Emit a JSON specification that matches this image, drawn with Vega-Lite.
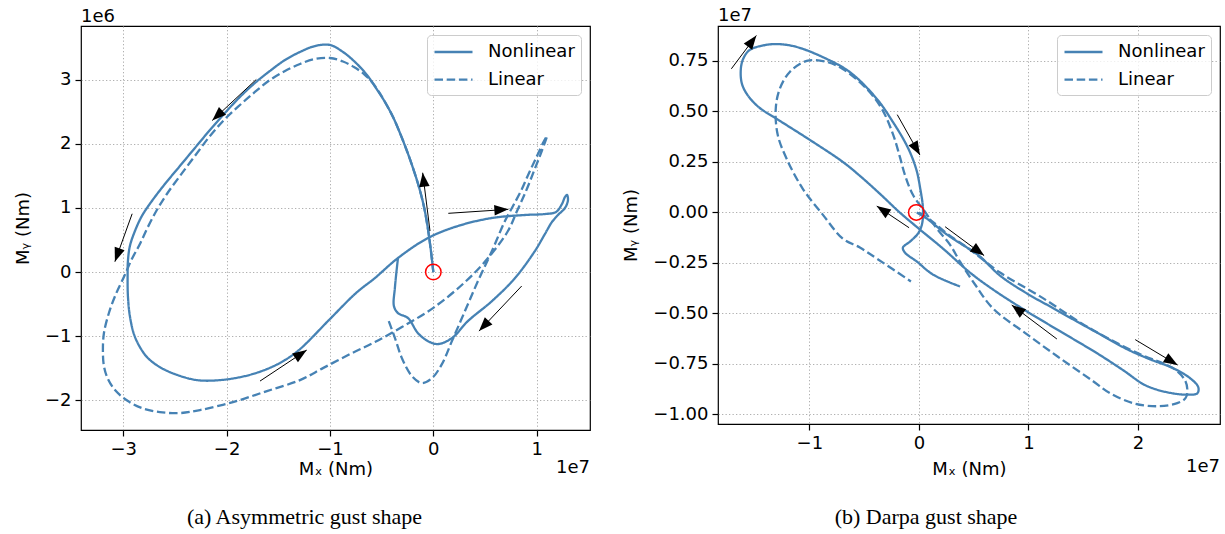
{
"$schema": "https://vega.github.io/schema/vega-lite/v6.json",
"background": "white",
"padding": {"left": 13, "top": 6, "right": 0, "bottom": 0},
"spacing": 128,
"bounds": "flush",
"datasets": {
"a_lines": [
{"series":"Nonlinear","t":1,"mx":0,"my":0},{"series":"Nonlinear","t":2,"mx":-0.023,"my":0.328},{"series":"Nonlinear","t":3,"mx":-0.052,"my":0.672},{"series":"Nonlinear","t":4,"mx":-0.09,"my":1.015},{"series":"Nonlinear","t":5,"mx":-0.139,"my":1.327},{"series":"Nonlinear","t":6,"mx":-0.197,"my":1.623},{"series":"Nonlinear","t":7,"mx":-0.255,"my":1.888},{"series":"Nonlinear","t":8,"mx":-0.323,"my":2.169},{"series":"Nonlinear","t":9,"mx":-0.39,"my":2.418},{"series":"Nonlinear","t":10,"mx":-0.468,"my":2.652},{"series":"Nonlinear","t":11,"mx":-0.555,"my":2.87},{"series":"Nonlinear","t":12,"mx":-0.642,"my":3.073},{"series":"Nonlinear","t":13,"mx":-0.758,"my":3.276},{"series":"Nonlinear","t":14,"mx":-0.874,"my":3.432},{"series":"Nonlinear","t":15,"mx":-1.0,"my":3.541},{"series":"Nonlinear","t":16,"mx":-1.145,"my":3.525},{"series":"Nonlinear","t":17,"mx":-1.29,"my":3.432},{"series":"Nonlinear","t":18,"mx":-1.435,"my":3.307},{"series":"Nonlinear","t":19,"mx":-1.581,"my":3.136},{"series":"Nonlinear","t":20,"mx":-1.726,"my":2.949},{"series":"Nonlinear","t":21,"mx":-1.871,"my":2.731},{"series":"Nonlinear","t":22,"mx":-2.016,"my":2.481},{"series":"Nonlinear","t":23,"mx":-2.161,"my":2.216},{"series":"Nonlinear","t":24,"mx":-2.307,"my":1.935},{"series":"Nonlinear","t":25,"mx":-2.452,"my":1.654},{"series":"Nonlinear","t":26,"mx":-2.597,"my":1.373},{"series":"Nonlinear","t":27,"mx":-2.723,"my":1.108},{"series":"Nonlinear","t":28,"mx":-2.82,"my":0.874},{"series":"Nonlinear","t":29,"mx":-2.887,"my":0.64},{"series":"Nonlinear","t":30,"mx":-2.936,"my":0.406},{"series":"Nonlinear","t":31,"mx":-2.955,"my":0.172},{"series":"Nonlinear","t":32,"mx":-2.958,"my":-0.061},{"series":"Nonlinear","t":33,"mx":-2.955,"my":-0.375},{"series":"Nonlinear","t":34,"mx":-2.936,"my":-0.687},{"series":"Nonlinear","t":35,"mx":-2.897,"my":-0.967},{"series":"Nonlinear","t":36,"mx":-2.839,"my":-1.17},{"series":"Nonlinear","t":37,"mx":-2.762,"my":-1.341},{"series":"Nonlinear","t":38,"mx":-2.646,"my":-1.482},{"series":"Nonlinear","t":39,"mx":-2.501,"my":-1.591},{"series":"Nonlinear","t":40,"mx":-2.288,"my":-1.685},{"series":"Nonlinear","t":41,"mx":-2.064,"my":-1.685},{"series":"Nonlinear","t":42,"mx":-1.822,"my":-1.622},{"series":"Nonlinear","t":43,"mx":-1.61,"my":-1.513},{"series":"Nonlinear","t":44,"mx":-1.436,"my":-1.373},{"series":"Nonlinear","t":45,"mx":-1.29,"my":-1.202},{"series":"Nonlinear","t":46,"mx":-1.0,"my":-0.732},{"series":"Nonlinear","t":47,"mx":-0.748,"my":-0.327},{"series":"Nonlinear","t":48,"mx":-0.565,"my":-0.093},{"series":"Nonlinear","t":49,"mx":-0.342,"my":0.219},{"series":"Nonlinear","t":50,"mx":-0.052,"my":0.531},{"series":"Nonlinear","t":51,"mx":0.238,"my":0.718},{"series":"Nonlinear","t":52,"mx":0.567,"my":0.843},{"series":"Nonlinear","t":53,"mx":0.887,"my":0.89},{"series":"Nonlinear","t":54,"mx":1.08,"my":0.905},{"series":"Nonlinear","t":55,"mx":1.187,"my":0.937},{"series":"Nonlinear","t":56,"mx":1.245,"my":1.062},{"series":"Nonlinear","t":57,"mx":1.274,"my":1.171},{"series":"Nonlinear","t":58,"mx":1.293,"my":1.202},{"series":"Nonlinear","t":59,"mx":1.303,"my":1.124},{"series":"Nonlinear","t":60,"mx":1.274,"my":0.999},{"series":"Nonlinear","t":61,"mx":1.206,"my":0.89},{"series":"Nonlinear","t":62,"mx":1.148,"my":0.781},{"series":"Nonlinear","t":63,"mx":1.08,"my":0.594},{"series":"Nonlinear","t":64,"mx":0.983,"my":0.328},{"series":"Nonlinear","t":65,"mx":0.79,"my":-0.094},{"series":"Nonlinear","t":66,"mx":0.567,"my":-0.453},{"series":"Nonlinear","t":67,"mx":0.335,"my":-0.764},{"series":"Nonlinear","t":68,"mx":0.18,"my":-1.03},{"series":"Nonlinear","t":69,"mx":0.045,"my":-1.123},{"series":"Nonlinear","t":70,"mx":-0.052,"my":-1.077},{"series":"Nonlinear","t":71,"mx":-0.149,"my":-0.952},{"series":"Nonlinear","t":72,"mx":-0.245,"my":-0.718},{"series":"Nonlinear","t":73,"mx":-0.342,"my":-0.64},{"series":"Nonlinear","t":74,"mx":-0.381,"my":-0.531},{"series":"Nonlinear","t":75,"mx":-0.372,"my":-0.25},{"series":"Nonlinear","t":76,"mx":-0.342,"my":0.219},
{"series":"Linear","t":1,"mx":0,"my":0},{"series":"Linear","t":2,"mx":-0.023,"my":0.328},{"series":"Linear","t":3,"mx":-0.052,"my":0.672},{"series":"Linear","t":4,"mx":-0.09,"my":1.015},{"series":"Linear","t":5,"mx":-0.139,"my":1.327},{"series":"Linear","t":6,"mx":-0.197,"my":1.623},{"series":"Linear","t":7,"mx":-0.255,"my":1.888},{"series":"Linear","t":8,"mx":-0.323,"my":2.169},{"series":"Linear","t":9,"mx":-0.39,"my":2.418},{"series":"Linear","t":10,"mx":-0.468,"my":2.652},{"series":"Linear","t":11,"mx":-0.526,"my":2.808},{"series":"Linear","t":12,"mx":-0.594,"my":2.963},{"series":"Linear","t":13,"mx":-0.671,"my":3.088},{"series":"Linear","t":14,"mx":-0.768,"my":3.198},{"series":"Linear","t":15,"mx":-0.874,"my":3.284},{"series":"Linear","t":16,"mx":-1.0,"my":3.338},{"series":"Linear","t":17,"mx":-1.145,"my":3.323},{"series":"Linear","t":18,"mx":-1.29,"my":3.245},{"series":"Linear","t":19,"mx":-1.435,"my":3.136},{"series":"Linear","t":20,"mx":-1.581,"my":2.995},{"series":"Linear","t":21,"mx":-1.726,"my":2.808},{"series":"Linear","t":22,"mx":-1.871,"my":2.605},{"series":"Linear","t":23,"mx":-2.016,"my":2.387},{"series":"Linear","t":24,"mx":-2.161,"my":2.122},{"series":"Linear","t":25,"mx":-2.307,"my":1.81},{"series":"Linear","t":26,"mx":-2.452,"my":1.498},{"series":"Linear","t":27,"mx":-2.578,"my":1.217},{"series":"Linear","t":28,"mx":-2.675,"my":0.967},{"series":"Linear","t":29,"mx":-2.762,"my":0.702},{"series":"Linear","t":30,"mx":-2.839,"my":0.437},{"series":"Linear","t":31,"mx":-2.917,"my":0.203},{"series":"Linear","t":32,"mx":-2.994,"my":-0.077},{"series":"Linear","t":33,"mx":-3.071,"my":-0.342},{"series":"Linear","t":34,"mx":-3.139,"my":-0.639},{"series":"Linear","t":35,"mx":-3.187,"my":-0.951},{"series":"Linear","t":36,"mx":-3.197,"my":-1.232},{"series":"Linear","t":37,"mx":-3.187,"my":-1.466},{"series":"Linear","t":38,"mx":-3.148,"my":-1.669},{"series":"Linear","t":39,"mx":-3.071,"my":-1.856},{"series":"Linear","t":40,"mx":-2.955,"my":-2.012},{"series":"Linear","t":41,"mx":-2.82,"my":-2.121},{"series":"Linear","t":42,"mx":-2.646,"my":-2.184},{"series":"Linear","t":43,"mx":-2.452,"my":-2.199},{"series":"Linear","t":44,"mx":-2.258,"my":-2.152},{"series":"Linear","t":45,"mx":-1.939,"my":-2.028},{"series":"Linear","t":46,"mx":-1.61,"my":-1.856},{"series":"Linear","t":47,"mx":-1.29,"my":-1.685},{"series":"Linear","t":48,"mx":-1.068,"my":-1.498},{"series":"Linear","t":49,"mx":-0.806,"my":-1.279},{"series":"Linear","t":50,"mx":-0.565,"my":-1.092},{"series":"Linear","t":51,"mx":-0.304,"my":-0.858},{"series":"Linear","t":52,"mx":-0.003,"my":-0.562},{"series":"Linear","t":53,"mx":0.306,"my":-0.157},{"series":"Linear","t":54,"mx":0.529,"my":0.218},{"series":"Linear","t":55,"mx":0.722,"my":0.64},{"series":"Linear","t":56,"mx":0.81,"my":0.952},{"series":"Linear","t":57,"mx":0.897,"my":1.264},{"series":"Linear","t":58,"mx":0.974,"my":1.576},{"series":"Linear","t":59,"mx":1.042,"my":1.857},{"series":"Linear","t":60,"mx":1.1,"my":2.122},{"series":"Linear","t":61,"mx":1.071,"my":2.044},{"series":"Linear","t":62,"mx":1.003,"my":1.81},{"series":"Linear","t":63,"mx":0.926,"my":1.545},{"series":"Linear","t":64,"mx":0.848,"my":1.264},{"series":"Linear","t":65,"mx":0.771,"my":1.03},{"series":"Linear","t":66,"mx":0.693,"my":0.796},{"series":"Linear","t":67,"mx":0.567,"my":0.328},{"series":"Linear","t":68,"mx":0.432,"my":-0.14},{"series":"Linear","t":69,"mx":0.306,"my":-0.608},{"series":"Linear","t":70,"mx":0.18,"my":-1.077},{"series":"Linear","t":71,"mx":0.083,"my":-1.436},{"series":"Linear","t":72,"mx":-0.013,"my":-1.654},{"series":"Linear","t":73,"mx":-0.11,"my":-1.732},{"series":"Linear","t":74,"mx":-0.207,"my":-1.623},{"series":"Linear","t":75,"mx":-0.304,"my":-1.342},{"series":"Linear","t":76,"mx":-0.371,"my":-1.03},{"series":"Linear","t":77,"mx":-0.439,"my":-0.732}
],
"b_lines": [
{"series":"Nonlinear","t":1,"mx":-0.02,"my":0},{"series":"Nonlinear","t":2,"mx":0.027,"my":-0.016},{"series":"Nonlinear","t":3,"mx":0.073,"my":-0.031},{"series":"Nonlinear","t":4,"mx":0.256,"my":-0.11},{"series":"Nonlinear","t":5,"mx":0.466,"my":-0.184},{"series":"Nonlinear","t":6,"mx":0.558,"my":-0.219},{"series":"Nonlinear","t":7,"mx":0.74,"my":-0.313},{"series":"Nonlinear","t":8,"mx":0.987,"my":-0.402},{"series":"Nonlinear","t":9,"mx":1.197,"my":-0.466},{"series":"Nonlinear","t":10,"mx":1.444,"my":-0.541},{"series":"Nonlinear","t":11,"mx":1.654,"my":-0.604},{"series":"Nonlinear","t":12,"mx":1.901,"my":-0.678},{"series":"Nonlinear","t":13,"mx":2.111,"my":-0.728},{"series":"Nonlinear","t":14,"mx":2.322,"my":-0.772},{"series":"Nonlinear","t":15,"mx":2.477,"my":-0.822},{"series":"Nonlinear","t":16,"mx":2.55,"my":-0.866},{"series":"Nonlinear","t":17,"mx":2.541,"my":-0.896},{"series":"Nonlinear","t":18,"mx":2.45,"my":-0.903},{"series":"Nonlinear","t":19,"mx":2.267,"my":-0.891},{"series":"Nonlinear","t":20,"mx":2.066,"my":-0.856},{"series":"Nonlinear","t":21,"mx":1.865,"my":-0.782},{"series":"Nonlinear","t":22,"mx":1.627,"my":-0.698},{"series":"Nonlinear","t":23,"mx":1.289,"my":-0.589},{"series":"Nonlinear","t":24,"mx":0.987,"my":-0.491},{"series":"Nonlinear","t":25,"mx":0.676,"my":-0.382},{"series":"Nonlinear","t":26,"mx":0.466,"my":-0.298},{"series":"Nonlinear","t":27,"mx":0.219,"my":-0.179},{"series":"Nonlinear","t":28,"mx":0.009,"my":-0.085},{"series":"Nonlinear","t":29,"mx":-0.174,"my":-0.001},{"series":"Nonlinear","t":30,"mx":-0.356,"my":0.092},{"series":"Nonlinear","t":31,"mx":-0.539,"my":0.181},{"series":"Nonlinear","t":32,"mx":-0.695,"my":0.25},{"series":"Nonlinear","t":33,"mx":-0.996,"my":0.359},{"series":"Nonlinear","t":34,"mx":-1.298,"my":0.463},{"series":"Nonlinear","t":35,"mx":-1.453,"my":0.517},{"series":"Nonlinear","t":36,"mx":-1.545,"my":0.567},{"series":"Nonlinear","t":37,"mx":-1.609,"my":0.626},{"series":"Nonlinear","t":38,"mx":-1.627,"my":0.685},{"series":"Nonlinear","t":39,"mx":-1.609,"my":0.754},{"series":"Nonlinear","t":40,"mx":-1.545,"my":0.804},{"series":"Nonlinear","t":41,"mx":-1.399,"my":0.829},{"series":"Nonlinear","t":42,"mx":-1.271,"my":0.833},{"series":"Nonlinear","t":43,"mx":-1.115,"my":0.819},{"series":"Nonlinear","t":44,"mx":-0.878,"my":0.769},{"series":"Nonlinear","t":45,"mx":-0.631,"my":0.695},{"series":"Nonlinear","t":46,"mx":-0.384,"my":0.562},{"series":"Nonlinear","t":47,"mx":-0.238,"my":0.448},{"series":"Nonlinear","t":48,"mx":-0.128,"my":0.349},{"series":"Nonlinear","t":49,"mx":-0.064,"my":0.275},{"series":"Nonlinear","t":50,"mx":-0.018,"my":0.201},{"series":"Nonlinear","t":51,"mx":0.009,"my":0.127},{"series":"Nonlinear","t":52,"mx":0.037,"my":0.018},{"series":"Nonlinear","t":53,"mx":0.027,"my":-0.061},{"series":"Nonlinear","t":54,"mx":-0.009,"my":-0.105},{"series":"Nonlinear","t":55,"mx":-0.082,"my":-0.145},{"series":"Nonlinear","t":56,"mx":-0.146,"my":-0.174},{"series":"Nonlinear","t":57,"mx":-0.128,"my":-0.199},{"series":"Nonlinear","t":58,"mx":-0.018,"my":-0.244},{"series":"Nonlinear","t":59,"mx":0.128,"my":-0.308},{"series":"Nonlinear","t":60,"mx":0.375,"my":-0.367},
{"series":"Linear","t":1,"mx":0,"my":0},{"series":"Linear","t":2,"mx":0.101,"my":-0.036},{"series":"Linear","t":3,"mx":0.256,"my":-0.105},{"series":"Linear","t":4,"mx":0.466,"my":-0.184},{"series":"Linear","t":5,"mx":0.74,"my":-0.298},{"series":"Linear","t":6,"mx":1.106,"my":-0.416},{"series":"Linear","t":7,"mx":1.563,"my":-0.575},{"series":"Linear","t":8,"mx":2.02,"my":-0.703},{"series":"Linear","t":9,"mx":2.267,"my":-0.757},{"series":"Linear","t":10,"mx":2.358,"my":-0.787},{"series":"Linear","t":11,"mx":2.433,"my":-0.836},{"series":"Linear","t":12,"mx":2.45,"my":-0.886},{"series":"Linear","t":13,"mx":2.433,"my":-0.92},{"series":"Linear","t":14,"mx":2.358,"my":-0.945},{"series":"Linear","t":15,"mx":2.176,"my":-0.96},{"series":"Linear","t":16,"mx":1.956,"my":-0.945},{"series":"Linear","t":17,"mx":1.746,"my":-0.896},{"series":"Linear","t":18,"mx":1.59,"my":-0.836},{"series":"Linear","t":19,"mx":1.289,"my":-0.723},{"series":"Linear","t":20,"mx":0.987,"my":-0.604},{"series":"Linear","t":21,"mx":0.676,"my":-0.476},{"series":"Linear","t":22,"mx":0.512,"my":-0.357},{"series":"Linear","t":23,"mx":0.375,"my":-0.244},{"series":"Linear","t":24,"mx":0.283,"my":-0.16},{"series":"Linear","t":25,"mx":0.165,"my":-0.081},{"series":"Linear","t":26,"mx":0.055,"my":0.003},{"series":"Linear","t":27,"mx":-0.055,"my":0.087},{"series":"Linear","t":28,"mx":-0.128,"my":0.186},{"series":"Linear","t":29,"mx":-0.174,"my":0.275},{"series":"Linear","t":30,"mx":-0.238,"my":0.389},{"series":"Linear","t":31,"mx":-0.338,"my":0.512},{"series":"Linear","t":32,"mx":-0.484,"my":0.616},{"series":"Linear","t":33,"mx":-0.695,"my":0.71},{"series":"Linear","t":34,"mx":-0.841,"my":0.745},{"series":"Linear","t":35,"mx":-1.024,"my":0.75},{"series":"Linear","t":36,"mx":-1.179,"my":0.695},{"series":"Linear","t":37,"mx":-1.271,"my":0.611},{"series":"Linear","t":38,"mx":-1.307,"my":0.512},{"series":"Linear","t":39,"mx":-1.289,"my":0.384},{"series":"Linear","t":40,"mx":-1.207,"my":0.265},{"series":"Linear","t":41,"mx":-1.06,"my":0.117},{"series":"Linear","t":42,"mx":-0.878,"my":-0.011},{"series":"Linear","t":43,"mx":-0.695,"my":-0.13},{"series":"Linear","t":44,"mx":-0.539,"my":-0.174},{"series":"Linear","t":45,"mx":-0.384,"my":-0.229},{"series":"Linear","t":46,"mx":-0.073,"my":-0.342}
],
"a_arrows": [
{"tx":-1.713,"ty":3.003,"hx":-2.139,"hy":2.364},
{"tx":-2.914,"ty":0.909,"hx":-3.081,"hy":0.162},
{"tx":-1.677,"ty":-1.7,"hx":-1.225,"hy":-1.217},
{"tx":-0.032,"ty":0.64,"hx":-0.103,"hy":1.549},
{"tx":0.145,"ty":0.916,"hx":0.726,"hy":0.978},
{"tx":0.855,"ty":-0.218,"hx":0.442,"hy":-0.921}
],
"b_arrows": [
{"tx":-1.712,"ty":0.711,"hx":-1.484,"hy":0.876},
{"tx":-0.198,"ty":0.484,"hx":0.009,"hy":0.284},
{"tx":-0.09,"ty":-0.076,"hx":-0.385,"hy":0.031},
{"tx":0.239,"ty":-0.071,"hx":0.595,"hy":-0.214},
{"tx":1.259,"ty":-0.627,"hx":0.847,"hy":-0.459},
{"tx":1.974,"ty":-0.63,"hx":2.361,"hy":-0.756}
],
"a_origin": [{"mx":0,"my":0}],
"b_origin": [{"mx":-0.024,"my":0}]
},
"hconcat": [
{
"width": 509, "height": 404,
"title": {"text": "(a) Asymmetric gust shape", "dx": -31, "offset": 29},
"layer": [
{"data": {"name": "a_lines"},
 "mark": {"type": "line", "interpolate": "catmull-rom", "strokeWidth": 2.3, "color": "#4682b4", "strokeCap": "butt"},
 "encoding": {
  "x": {"field": "mx", "type": "quantitative", "title": "Mₓ (Nm)", "scale": {"domain": [-3.409, 1.516], "nice": false, "zero": false}, "axis": {"values": [-3, -2, -1, 0, 1], "format": "d"}},
  "y": {"field": "my", "type": "quantitative", "title": "Mᵧ (Nm)", "scale": {"domain": [-2.463, 3.837], "nice": false, "zero": false}, "axis": {"values": [-2, -1, 0, 1, 2, 3], "format": "d"}},
  "order": {"field": "t", "type": "quantitative"},
  "strokeDash": {"field": "series", "type": "nominal", "scale": {"domain": ["Nonlinear", "Linear"], "range": [[1, 0], [8.5, 3.7]]}, "legend": {"title": null}}
 }},
{"data": {"name": "a_arrows"},
 "mark": {"type": "rule", "color": "black", "strokeWidth": 1},
 "encoding": {
  "x": {"field": "tx", "type": "quantitative", "title": "Mₓ (Nm)"},
  "y": {"field": "ty", "type": "quantitative", "title": "Mᵧ (Nm)"},
  "x2": {"field": "hx"}, "y2": {"field": "hy"}
 }},
{"data": {"name": "a_arrows"},
 "transform": [{"calculate": "atan2((datum.hx - datum.tx) * 103.35, (datum.hy - datum.ty) * 64.12) * 180 / PI", "as": "ang"}],
 "mark": {"type": "point", "shape": "M0,0L-0.75,2L0.75,2Z", "filled": true, "color": "black", "size": 196, "opacity": 1},
 "encoding": {
  "x": {"field": "hx", "type": "quantitative", "title": "Mₓ (Nm)"},
  "y": {"field": "hy", "type": "quantitative", "title": "Mᵧ (Nm)"},
  "angle": {"field": "ang", "type": "quantitative", "scale": null}
 }},
{"data": {"name": "a_origin"},
 "mark": {"type": "point", "shape": "circle", "filled": false, "color": "red", "size": 240, "strokeWidth": 1.5, "opacity": 1},
 "encoding": {
  "x": {"field": "mx", "type": "quantitative", "title": "Mₓ (Nm)"},
  "y": {"field": "my", "type": "quantitative", "title": "Mᵧ (Nm)"}
 }},
{"data": {"values": [{}]},
 "mark": {"type": "text", "text": "1e6", "align": "left", "baseline": "alphabetic", "dy": -4, "fontSize": 18, "font": "DejaVu Sans", "color": "black"},
 "encoding": {"x": {"datum": -3.409, "type": "quantitative", "title": "Mₓ (Nm)"}, "y": {"datum": 3.837, "type": "quantitative", "title": "Mᵧ (Nm)"}}},
{"data": {"values": [{}]},
 "mark": {"type": "text", "text": "1e7", "align": "right", "baseline": "middle", "dy": 38, "fontSize": 18, "font": "DejaVu Sans", "color": "black"},
 "encoding": {"x": {"datum": 1.516, "type": "quantitative", "title": "Mₓ (Nm)"}, "y": {"datum": -2.463, "type": "quantitative", "title": "Mᵧ (Nm)"}}}
]
},
{
"width": 502, "height": 398,
"title": {"text": "(b) Darpa gust shape", "dx": -43, "offset": 29},
"layer": [
{"data": {"name": "b_lines"},
 "mark": {"type": "line", "interpolate": "catmull-rom", "strokeWidth": 2.3, "color": "#4682b4", "strokeCap": "butt"},
 "encoding": {
  "x": {"field": "mx", "type": "quantitative", "title": "Mₓ (Nm)", "scale": {"domain": [-1.834, 2.748], "nice": false, "zero": false}, "axis": {"values": [-1, 0, 1, 2], "format": "d", "titlePadding": 8}},
  "y": {"field": "my", "type": "quantitative", "title": "Mᵧ (Nm)", "scale": {"domain": [-1.048, 0.923], "nice": false, "zero": false}, "axis": {"values": [-1, -0.75, -0.5, -0.25, 0, 0.25, 0.5, 0.75], "format": ".2f"}},
  "order": {"field": "t", "type": "quantitative"},
  "strokeDash": {"field": "series", "type": "nominal", "scale": {"domain": ["Nonlinear", "Linear"], "range": [[1, 0], [8.5, 3.7]]}, "legend": {"title": null}}
 }},
{"data": {"name": "b_arrows"},
 "mark": {"type": "rule", "color": "black", "strokeWidth": 1},
 "encoding": {
  "x": {"field": "tx", "type": "quantitative", "title": "Mₓ (Nm)"},
  "y": {"field": "ty", "type": "quantitative", "title": "Mᵧ (Nm)"},
  "x2": {"field": "hx"}, "y2": {"field": "hy"}
 }},
{"data": {"name": "b_arrows"},
 "transform": [{"calculate": "atan2((datum.hx - datum.tx) * 109.47, (datum.hy - datum.ty) * 202.29) * 180 / PI", "as": "ang"}],
 "mark": {"type": "point", "shape": "M0,0L-0.75,2L0.75,2Z", "filled": true, "color": "black", "size": 196, "opacity": 1},
 "encoding": {
  "x": {"field": "hx", "type": "quantitative", "title": "Mₓ (Nm)"},
  "y": {"field": "hy", "type": "quantitative", "title": "Mᵧ (Nm)"},
  "angle": {"field": "ang", "type": "quantitative", "scale": null}
 }},
{"data": {"name": "b_origin"},
 "mark": {"type": "point", "shape": "circle", "filled": false, "color": "red", "size": 240, "strokeWidth": 1.5, "opacity": 1},
 "encoding": {
  "x": {"field": "mx", "type": "quantitative", "title": "Mₓ (Nm)"},
  "y": {"field": "my", "type": "quantitative", "title": "Mᵧ (Nm)"}
 }},
{"data": {"values": [{}]},
 "mark": {"type": "text", "text": "1e7", "align": "left", "baseline": "alphabetic", "dy": -5, "fontSize": 18, "font": "DejaVu Sans", "color": "black"},
 "encoding": {"x": {"datum": -1.834, "type": "quantitative", "title": "Mₓ (Nm)"}, "y": {"datum": 0.923, "type": "quantitative", "title": "Mᵧ (Nm)"}}},
{"data": {"values": [{}]},
 "mark": {"type": "text", "text": "1e7", "align": "right", "baseline": "middle", "dy": 43, "fontSize": 18, "font": "DejaVu Sans", "color": "black"},
 "encoding": {"x": {"datum": 2.748, "type": "quantitative", "title": "Mₓ (Nm)"}, "y": {"datum": -1.048, "type": "quantitative", "title": "Mᵧ (Nm)"}}}
]
}
],
"resolve": {"scale": {"strokeDash": "independent"}, "legend": {"strokeDash": "independent"}},
"config": {
 "font": "DejaVu Sans",
 "view": {"stroke": "black", "strokeWidth": 1.2},
 "axis": {"domain": false, "grid": true, "gridColor": "#b0b0b0", "gridDash": [1.3, 2.2], "gridWidth": 1, "ticks": true, "tickColor": "black", "tickSize": 6, "tickWidth": 1.2, "labelFont": "DejaVu Sans", "labelFontSize": 18, "labelColor": "black", "labelPadding": 4, "titleFont": "DejaVu Sans", "titleFontSize": 18, "titleFontWeight": "normal", "titleColor": "black", "labelFlush": false, "labelOverlap": false},
 "axisX": {"titlePadding": 2},
 "axisY": {"titlePadding": 12},
 "legend": {"orient": "top-right", "offset": 9, "labelFont": "DejaVu Sans", "labelFontSize": 18, "labelColor": "black", "symbolType": "M-1,0L3,0", "symbolSize": 361, "symbolStrokeWidth": 2.3, "symbolStrokeColor": "#4682b4", "symbolFillColor": "transparent", "strokeColor": "#cccccc", "fillColor": "rgba(255,255,255,0.8)", "cornerRadius": 4, "padding": 6, "rowPadding": 7.7, "labelOffset": 33},
 "title": {"font": "Liberation Serif", "fontSize": 22, "fontWeight": "normal", "color": "black", "orient": "bottom", "anchor": "middle"}
}
}
